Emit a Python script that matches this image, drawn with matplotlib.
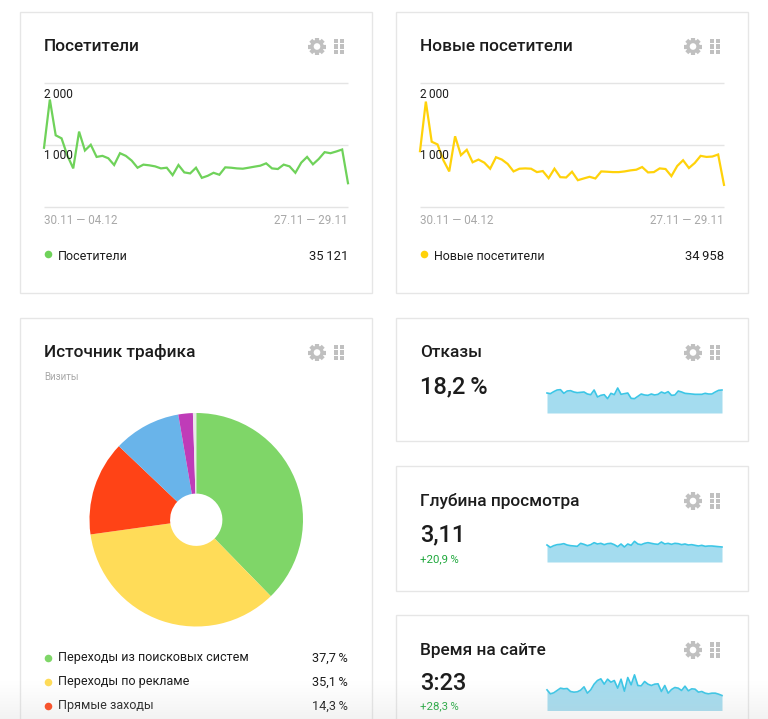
#!/usr/bin/env python3
# -*- coding: utf-8 -*-
import matplotlib
matplotlib.use('Agg')
import matplotlib.pyplot as plt
from matplotlib.patches import Rectangle, Circle
import numpy as np

plt.rcParams['font.family'] = ['Roboto', 'DejaVu Sans']

W, H = 768, 719

visitors = [951, 1732, 1153, 1104, 825, 617, 1213, 907, 1000, 803, 820, 781, 672, 863, 820, 743, 628, 678,
            667, 650, 617, 628, 508, 672, 552, 536, 628, 464, 497, 546, 514, 634, 628, 617, 612, 628, 645,
            661, 699, 617, 607, 678, 650, 546, 710, 803, 683, 770, 880, 863, 891, 923, 377]
new_visitors = [896, 1699, 1049, 1005, 749, 568, 1137, 831, 918, 716, 760, 710, 612, 798, 760, 689, 568, 612,
                617, 612, 557, 574, 459, 612, 475, 470, 563, 426, 454, 481, 454, 568, 563, 557, 557, 568, 585,
                596, 639, 552, 557, 617, 607, 492, 656, 749, 623, 705, 820, 803, 809, 842, 350]

source_labels = ['Переходы из поисковых систем', 'Переходы по рекламе', 'Прямые заходы']
source_values = [37.7, 35.1, 14.3, 10.2, 2.2, 0.5]
source_colors = ['#7fd668', '#ffdc58', '#ff4316', '#69b4ea', '#bf3cb8', '#e8e8e8']
source_text = ['37,7\u2009%', '35,1\u2009%', '14,3\u2009%']

# sparkline heights
bounce = [60, 58, 64, 69, 70, 59, 66, 67, 63, 61, 62, 63, 57, 55, 69, 48, 53, 55, 43, 59, 55, 75, 56, 58, 60, 44,
          43, 50, 57, 54, 53, 57, 54, 56, 63, 59, 64, 53, 54, 66, 63, 59, 58, 57, 56, 56, 56, 59, 57, 57, 63, 68, 69]
depth = [51, 44, 49, 52, 53, 55, 51, 49, 48, 47, 56, 53, 49, 52, 58, 54, 56, 52, 55, 56, 52, 46, 54, 45, 54, 50,
         62, 54, 52, 56, 58, 56, 54, 53, 60, 54, 56, 53, 56, 55, 52, 54, 51, 52, 50, 48, 50, 47, 48, 48, 47, 46, 45]
duration = [62, 50, 53, 60, 67, 65, 66, 57, 55, 56, 61, 71, 52, 62, 79, 90, 95, 79, 94, 85, 90, 67, 94, 58, 99, 77,
            107, 75, 74, 87, 79, 75, 79, 80, 57, 75, 52, 63, 69, 67, 60, 73, 59, 65, 64, 55, 57, 52, 50, 52, 52, 49, 45]

INK = '#1c1c1c'
GREY = '#a8a8a8'
ICON = '#c0c0c0'
BORDER = '#e6e6e6'
GRID = '#e4e4e4'

fig = plt.figure(figsize=(W / 100, H / 100), dpi=100, facecolor='white')
bg = fig.add_axes([0, 0, 1, 1])
bg.set_xlim(0, W)
bg.set_ylim(H, 0)
bg.axis('off')


def px_axes(x0, y0, x1, y1):
    ax = fig.add_axes([x0 / W, 1 - y1 / H, (x1 - x0) / W, (y1 - y0) / H])
    ax.axis('off')
    return ax


def card(x0, y0, x1, y1, title):
    y = y0 + 35
    bg.add_patch(Rectangle((x0, y0), x1 - x0, y1 - y0, fc='white', ec=BORDER, lw=1))
    bg.text(x0 + 24.5, y, title, fontsize=12.4, color=INK, va='center', weight=500)
    icons(x1 - 55, x1 - 32, y)


def icons(gx, bx, y):
    for a in np.arange(0, 180, 45):
        dx, dy = 8.8 * np.cos(np.radians(a)), 8.8 * np.sin(np.radians(a))
        bg.plot([gx - dx, gx + dx], [y - dy, y + dy], color=ICON, lw=3, solid_capstyle='butt')
    bg.add_patch(Circle((gx, y), 6.8, fc=ICON, ec='none', zorder=3))
    bg.add_patch(Circle((gx, y), 3.3, fc='white', ec='none', zorder=4))
    for i in (-1, 0, 1):
        for j in (-1, 0):
            bg.add_patch(Rectangle((bx + 5.8 * j - 0.2, y + 5.5 * i - 2.2), 4.4, 4.4, fc=ICON, ec='none'))


def line_panel(x0, values, color, name, total):
    ax = px_axes(x0 + 24.5, 83, x0 + 328.5, 206.5)
    ax.set_xlim(0, len(values) - 1)
    ax.set_ylim(0, 2000)
    ax.hlines([0, 1000, 2000], 0, len(values) - 1, color=GRID, lw=1, clip_on=False)
    ax.plot(values, color=color, lw=1.6, solid_joinstyle='miter', clip_on=False)
    ax.text(0, 1820, '2\u2009000', fontsize=8.6, color=INK, va='center')
    ax.text(0, 820, '1\u2009000', fontsize=8.6, color=INK, va='center')
    bg.text(x0 + 24.5, 220.5, '30.11 — 04.12', fontsize=8.4, color=GREY, va='center')
    bg.text(x0 + 328.5, 220.5, '27.11 — 29.11', fontsize=8.4, color=GREY, va='center', ha='right')
    bg.scatter([x0 + 28.5], [254], s=30, color=color, linewidths=0)
    bg.text(x0 + 38.5, 256, name, fontsize=9, color=INK, va='center')
    bg.text(x0 + 328.5, 256, total, fontsize=9.4, color=INK, va='center', ha='right')


def spark_panel(y0, values):
    # one value unit is a third of a pixel
    ax = px_axes(547, y0 - 40, 722, y0)
    ax.set_xlim(0, len(values) - 1)
    ax.set_ylim(0, 120)
    ax.fill_between(range(len(values)), values, 0, color='#a4dcef', lw=0)
    ax.plot(values, color='#3cc6e6', lw=1.2, clip_on=False)


card(19.5, 11.5, 372, 293, 'Посетители')
card(396, 11.5, 748, 293, 'Новые посетители')
card(19.5, 317.5, 372, 760, 'Источник трафика')
card(396, 317.5, 748, 441, 'Отказы')
card(396, 466, 748, 591, 'Глубина просмотра')
card(396, 615, 748, 760, 'Время на сайте')

line_panel(19.5, visitors, '#6fd25a', 'Посетители', '35\u2009121')
line_panel(395.5, new_visitors, '#ffd20a', 'Новые посетители', '34\u2009958')

bg.text(44, 377, 'Визиты', fontsize=7, color=GREY, va='center')

pie_ax = px_axes(89.5, 413, 303, 626.5)
pie_ax.axis('on')
pie_ax.set_frame_on(False)
pie_ax.set_xticks([])
pie_ax.set_yticks([])
pie_ax.pie(source_values, colors=source_colors, startangle=90, counterclock=False, radius=1,
           wedgeprops=dict(width=0.755, linewidth=0))
pie_ax.set_xlim(-1, 1)
pie_ax.set_ylim(-1, 1)

for i, (lab, val) in enumerate(zip(source_labels, source_text)):
    y = 658 + i * 24
    bg.scatter([48], [y - 0.5], s=30, color=source_colors[i], linewidths=0)
    bg.text(58, y, lab, fontsize=9, color=INK, va='center')
    bg.text(348, y, val, fontsize=9.2, color=INK, va='center', ha='right')

bg.text(420, 386.5, '18,2\u2009%', fontsize=17, color=INK, va='center', weight=500)
bg.text(420, 535, '3,11', fontsize=17, color=INK, va='center', weight=500)
bg.text(420, 559, '+20,9\u2009%', fontsize=8.2, color='#1fa83c', va='center')
bg.text(420, 684, '3:23', fontsize=17, color=INK, va='center', weight=500)
bg.text(420, 706, '+28,3\u2009%', fontsize=8.2, color='#1fa83c', va='center')

spark_panel(413, bounce)
spark_panel(562, depth)
spark_panel(710.5, duration)

# grey fade at the bottom edge of the screenshot
fade = fig.add_axes([0, 0, 1, 40 / H], zorder=20)
fade.axis('off')
rgba = np.zeros((40, 2, 4))
rgba[..., :3] = 0.78
rgba[..., 3] = np.linspace(0, 0.28, 40)[:, None] ** 1.2
fade.imshow(rgba, aspect='auto', origin='upper', extent=(0, 1, 0, 1))

fig.savefig('out.png', dpi=100)
